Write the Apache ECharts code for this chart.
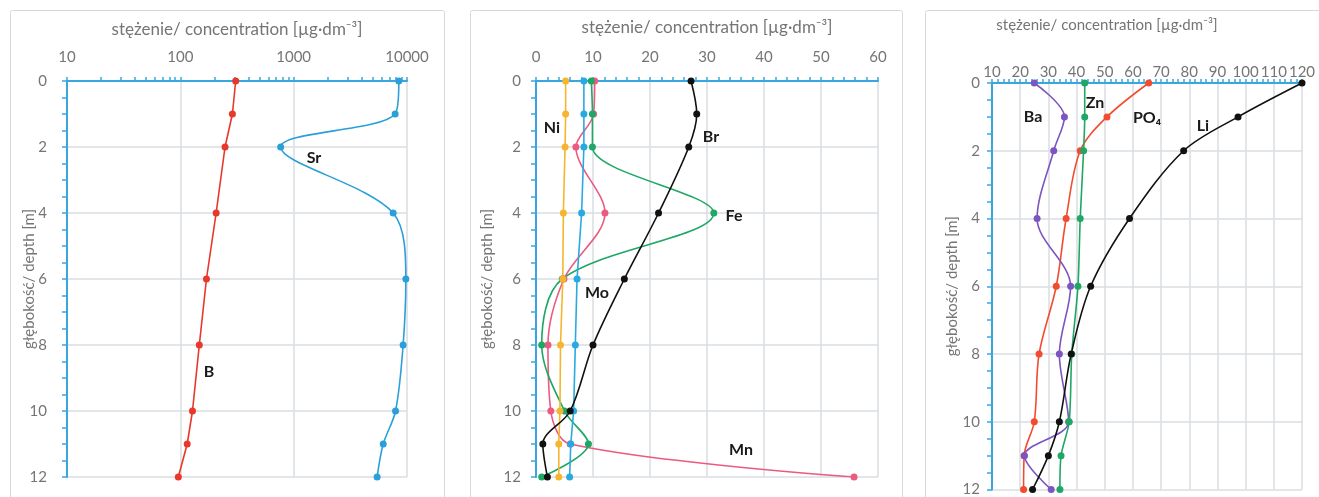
<!DOCTYPE html>
<html>
<head>
<meta charset="utf-8">
<script src="https://cdn.jsdelivr.net/npm/echarts@6/dist/echarts.min.js"></script>
<style>
html,body{margin:0;padding:0;background:#fff;}
#c{width:1319px;height:497px;}
</style>
</head>
<body>
<div id="c"></div>
<script>
// ---------- data ----------
const depths = [0, 1, 2, 4, 6, 8, 10, 11, 12];
// panel 1 (log scale)
const B  = [308, 288, 248, 207, 170, 147, 128, 115, 96];
const Sr = [8470, 7860, 768, 7550, 9770, 9240, 7920, 6170, 5450];
// panel 2
const Mn = [10.3, 10.1, 7.0, 12.1, 4.9, 2.1, 2.6, 6.0, 55.8];
const Fe = [9.7, 9.9, 9.9, 31.2, 4.6, 1.0, 5.0, 9.2, 1.0];
const Mo = [8.4, 8.4, 8.4, 8.0, 7.2, 6.9, 6.6, 6.1, 5.9];
const Ni = [5.2, 5.2, 5.1, 4.8, 4.7, 4.3, 4.2, 4.0, 4.0];
const Br = [27.2, 28.2, 26.8, 21.5, 15.5, 10.0, 6.0, 1.2, 2.0];
// panel 3
const PO4 = [65.6, 50.8, 41.3, 36.3, 32.8, 26.7, 25.0, 21.4, 21.2];
const Ba  = [25.0, 35.7, 31.9, 26.0, 37.9, 33.9, 37.2, 21.5, 31.0];
const Zn  = [42.9, 42.9, 42.5, 41.3, 40.5, 38.3, 37.4, 34.5, 34.1];
const Li  = [120, 97.3, 78.0, 58.8, 45.0, 38.1, 33.9, 30.0, 24.4];
// tick values
const logMajorTicks = [10, 100, 1000, 10000];
const logMinorTicks = [20, 30, 40, 50, 60, 70, 80, 90, 200, 300, 400, 500, 600, 700, 800, 900, 2000, 3000, 4000, 5000, 6000, 7000, 8000, 9000];
const xTitle = 'stężenie/ concentration [µg·dm⁻³]';
const yTitle = 'głębokość/ depth [m]';

// ---------- styles ----------
const FONT = 'Lato';
const AXIS_BLUE = '#3aa6df';
const GRAY = '#757575';
const GRID_C = '#dadee2';
const SM = 0.33;

const grids = [
  {left: 67, top: 81, width: 340, height: 396},
  {left: 536, top: 81, width: 342, height: 396},
  {left: 992, top: 83, width: 310, height: 409}
];

function yAxisFor(gi, gap, margin) {
  return {
    type: 'value', gridIndex: gi, min: 0, max: 12, interval: 2, inverse: true,
    name: yTitle, nameLocation: 'middle', nameGap: gap, nameRotate: 90,
    nameMoveOverlap: false,
    nameTextStyle: {color: GRAY, fontFamily: FONT, fontSize: 15},
    axisLine: {show: true, onZero: false, lineStyle: {color: AXIS_BLUE, width: 2}},
    axisTick: {show: true, length: 5, lineStyle: {color: AXIS_BLUE, width: 1.5}},
    minorTick: {show: true, splitNumber: 4, length: 5, lineStyle: {color: AXIS_BLUE, width: 1.5}},
    axisLabel: {color: GRAY, fontFamily: FONT, fontSize: 15, margin: margin},
    splitLine: {show: true, lineStyle: {color: GRID_C, width: 1.5}}
  };
}

const xAxes = [
  {
    type: 'log', logBase: 10, gridIndex: 0, min: logMajorTicks[0], max: logMajorTicks[logMajorTicks.length - 1], position: 'top',
    axisLine: {show: true, onZero: false, lineStyle: {color: AXIS_BLUE, width: 2}},
    axisTick: {show: true, length: 4, lineStyle: {color: AXIS_BLUE, width: 1.5}},
    axisLabel: {color: GRAY, fontFamily: FONT, fontSize: 15, margin: 16, formatter: v => String(v)},
    splitLine: {show: true, lineStyle: {color: GRID_C, width: 1.5}}
  },
  {
    // minor log ticks (log10 space)
    type: 'value', gridIndex: 0, min: 1, max: 4, position: 'top',
    axisLine: {show: false, onZero: false},
    axisTick: {show: true, length: 4, customValues: logMinorTicks.map(v => Math.log10(v)), lineStyle: {color: AXIS_BLUE, width: 1.5}},
    axisLabel: {show: false},
    splitLine: {show: false}
  },
  {
    type: 'value', gridIndex: 1, min: 0, max: 60, interval: 10, position: 'top',
    axisLine: {show: true, onZero: false, lineStyle: {color: AXIS_BLUE, width: 2}},
    axisTick: {show: true, length: 4, lineStyle: {color: AXIS_BLUE, width: 1.5}},
    minorTick: {show: true, splitNumber: 5, length: 4, lineStyle: {color: AXIS_BLUE, width: 1.5}},
    axisLabel: {color: GRAY, fontFamily: FONT, fontSize: 15, margin: 16},
    splitLine: {show: true, lineStyle: {color: GRID_C, width: 1.5}}
  },
  {
    type: 'value', gridIndex: 2, min: 10, max: 120, interval: 10, position: 'top',
    axisLine: {show: true, onZero: false, lineStyle: {color: AXIS_BLUE, width: 2}},
    axisTick: {show: true, length: 4, lineStyle: {color: AXIS_BLUE, width: 1.5}},
    minorTick: {show: true, splitNumber: 5, length: 4, lineStyle: {color: AXIS_BLUE, width: 1.5}},
    axisLabel: {color: GRAY, fontFamily: FONT, fontSize: 15, margin: 3},
    splitLine: {show: true, lineStyle: {color: GRID_C, width: 1.5}}
  }
];

const yAxes = [yAxisFor(0, 30, 20), yAxisFor(1, 41, 15), yAxisFor(2, 32, 12)];

function profile(values, color, xi, yi, smooth) {
  return {
    type: 'line', xAxisIndex: xi, yAxisIndex: yi,
    data: values.map((v, i) => [v, depths[i]]),
    smooth: smooth, symbol: 'circle', symbolSize: 7,
    lineStyle: {color: color, width: 1.6},
    itemStyle: {color: color},
    animation: false
  };
}

const series = [
  profile(B, '#e8372b', 0, 0, false),
  profile(Sr, '#2b9fd9', 0, 0, SM),
  profile(Mn, '#ec5a80', 2, 1, SM),
  profile(Fe, '#1ea765', 2, 1, SM),
  profile(Mo, '#2aa9e1', 2, 1, false),
  profile(Ni, '#f6b52f', 2, 1, false),
  profile(Br, '#111111', 2, 1, SM),
  profile(PO4, '#f24b2f', 3, 2, SM),
  profile(Ba, '#7d55c0', 3, 2, SM),
  profile(Zn, '#1ea765', 3, 2, 0.25),
  profile(Li, '#111111', 3, 2, SM)
];

function panelRect(x, w) {
  return {type: 'rect', z: -10, shape: {x: x, y: 10.5, width: w, height: 520, r: 2},
          style: {fill: '#fff', stroke: '#d6d9dc', lineWidth: 1}};
}
function title(x, y, size) {
  return {type: 'text', x: x, y: y, z: 10,
          style: {text: xTitle, fill: GRAY, font: size + 'px ' + FONT, textAlign: 'center', textVerticalAlign: 'middle'}};
}
function tag(text, x, y) {
  return {type: 'text', x: x, y: y, z: 10,
          style: {text: text, fill: '#1a1a1a', font: 'bold 16px ' + FONT, textAlign: 'center', textVerticalAlign: 'middle'}};
}

const option = {
  backgroundColor: '#ffffff',
  animation: false,
  grid: grids,
  xAxis: xAxes,
  yAxis: yAxes,
  series: series,
  graphic: [
    panelRect(10.5, 434), panelRect(470.5, 432), panelRect(925.5, 420),
    title(237, 30, 17), title(707, 28, 17), title(1107, 25, 15),
    tag('Sr', 314, 158), tag('B', 209, 372),
    tag('Ni', 552, 128), tag('Br', 711, 137), tag('Fe', 734, 216), tag('Mo', 597, 293), tag('Mn', 741, 450),
    tag('Ba', 1033, 117), tag('Zn', 1095, 103), tag('PO₄', 1147, 118), tag('Li', 1203, 126)
  ]
};

const chart = echarts.init(document.getElementById('c'), null, {renderer: 'canvas'});
chart.setOption(option);
</script>
</body>
</html>
